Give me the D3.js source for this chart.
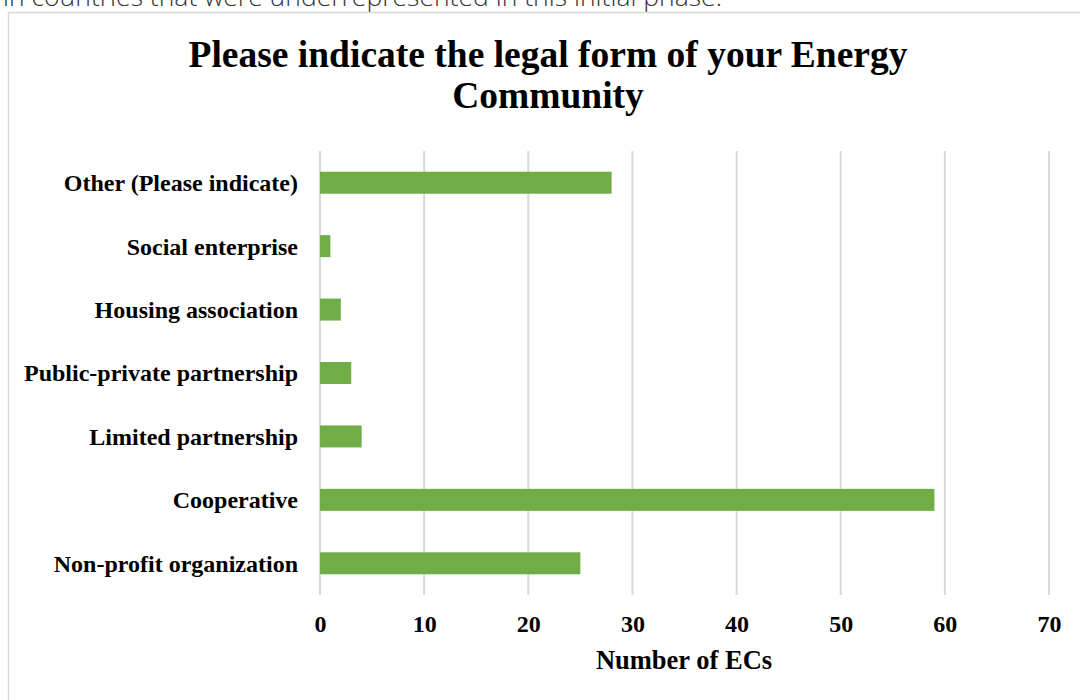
<!DOCTYPE html>
<html>
<head>
<meta charset="utf-8">
<script src="https://cdn.jsdelivr.net/npm/d3@7"></script>
<style>
  html, body { margin: 0; padding: 0; background: #fff; overflow: hidden; }
  svg { display: block; }
  .serif { font-family: "Liberation Serif", "Times New Roman", serif; font-weight: bold; fill: #000; }
</style>
</head>
<body>
<div id="chart"></div>
<script>
const width = 1080;
const height = 700;

const categories = [
  "Other (Please indicate)",
  "Social enterprise",
  "Housing association",
  "Public-private partnership",
  "Limited partnership",
  "Cooperative",
  "Non-profit organization",
];
const counts = [28, 1, 2, 3, 4, 59, 25];
const xTicks = [0, 10, 20, 30, 40, 50, 60, 70];
const titleLines = ["Please indicate the legal form of your Energy", "Community"];
const xTitle = "Number of ECs";
const pageText = "in countries that were underrepresented in this initial phase.";

const plot = { left: 320, right: 1049, top: 151, bottom: 595 };

const svg = d3
  .select("#chart")
  .append("svg")
  .attr("width", width)
  .attr("height", height);

// page text cut off above the figure
svg
  .append("text")
  .attr("x", 722)
  .attr("y", 6)
  .attr("text-anchor", "end")
  .style("font-family", "'Open Sans', sans-serif")
  .style("font-weight", 300)
  .style("font-size", "26.5px")
  .style("fill", "#333")
  .text(pageText);

// figure frame
svg
  .append("rect")
  .attr("x", 8.5)
  .attr("y", 12.5)
  .attr("width", width + 20)
  .attr("height", height + 20)
  .attr("fill", "#fff")
  .attr("stroke", "#d9d9d9")
  .attr("stroke-width", 1.5);

const xScale = d3.scaleLinear().domain([0, 70]).range([plot.left, plot.right]);

const yScale = d3
  .scaleBand()
  .domain(categories)
  .range([plot.top, plot.bottom])
  .paddingInner(0.653)
  .paddingOuter(0.3265);

// title
titleLines.forEach((line, i) => {
  svg
    .append("text")
    .attr("class", "serif")
    .attr("x", 548)
    .attr("y", 67 + i * 41)
    .attr("text-anchor", "middle")
    .style("font-size", "37.5px")
    .text(line);
});

// vertical gridlines
svg
  .append("g")
  .selectAll("line")
  .data(xTicks)
  .enter()
  .append("line")
  .attr("x1", (d) => xScale(d))
  .attr("x2", (d) => xScale(d))
  .attr("y1", plot.top)
  .attr("y2", plot.bottom)
  .attr("stroke", "#d9d9d9")
  .attr("stroke-width", 2);

// bars
svg
  .append("g")
  .selectAll("rect")
  .data(categories)
  .enter()
  .append("rect")
  .attr("x", xScale(0))
  .attr("y", (d) => yScale(d))
  .attr("width", (d, i) => xScale(counts[i]) - xScale(0))
  .attr("height", yScale.bandwidth())
  .attr("fill", "#70ad47");

// category labels
svg
  .append("g")
  .selectAll("text")
  .data(categories)
  .enter()
  .append("text")
  .attr("class", "serif")
  .attr("x", 298)
  .attr("y", (d) => yScale(d) + yScale.bandwidth() / 2)
  .attr("dy", "0.35em")
  .attr("text-anchor", "end")
  .style("font-size", "24px")
  .text((d) => d);

// x axis
const xAxis = d3.axisBottom(xScale).tickValues(xTicks).tickSize(0).tickPadding(20);

const axisG = svg
  .append("g")
  .attr("transform", `translate(0, ${plot.bottom})`)
  .call(xAxis);

axisG.select(".domain").remove();
axisG
  .selectAll("text")
  .attr("class", "serif")
  .style("font-size", "24px");

svg
  .append("text")
  .attr("class", "serif")
  .attr("x", 684)
  .attr("y", 669)
  .attr("text-anchor", "middle")
  .style("font-size", "26.5px")
  .text(xTitle);
</script>
</body>
</html>
